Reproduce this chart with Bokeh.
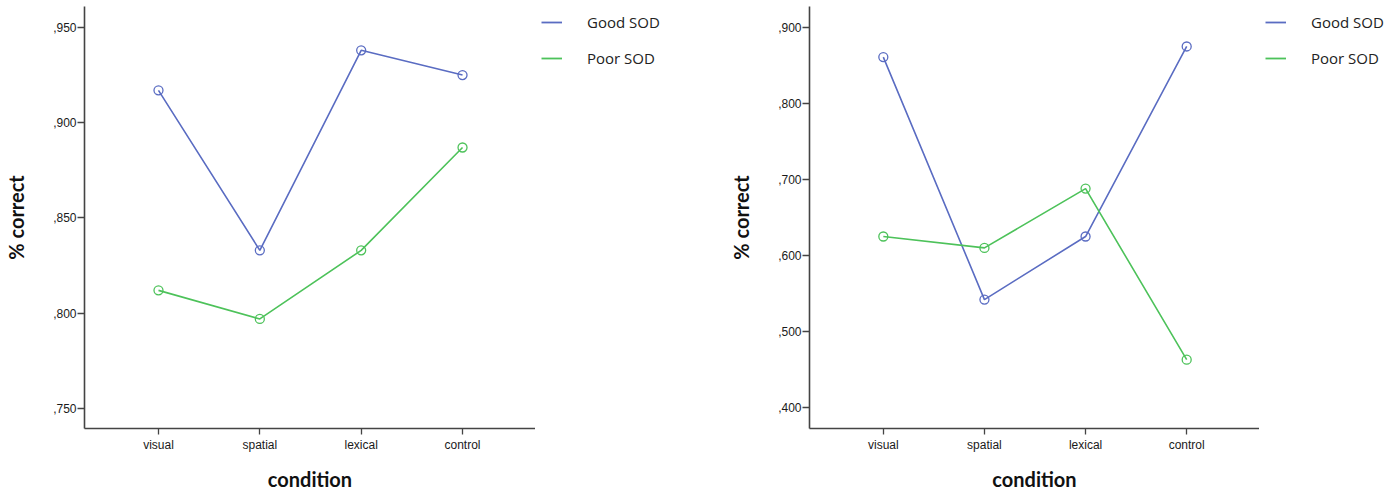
from bokeh.plotting import figure
from bokeh.layouts import row
from bokeh.models import Range1d, FixedTicker, CustomJSTickFormatter, Legend, LegendItem
from bokeh.embed import file_html
from bokeh.resources import INLINE

categories = ["visual", "spatial", "lexical", "control"]
series_names = ["Good SOD", "Poor SOD"]

left_good = [0.917, 0.833, 0.938, 0.925]
left_poor = [0.812, 0.797, 0.833, 0.887]
left_ticks = [0.750, 0.800, 0.850, 0.900, 0.950]

right_good = [0.861, 0.542, 0.625, 0.875]
right_poor = [0.625, 0.610, 0.688, 0.463]
right_ticks = [0.400, 0.500, 0.600, 0.700, 0.800, 0.900]

BLUE = "#5a6cc2"
GREEN = "#4dc25a"
AXIS = "#444444"
TXT = "#1a1a1a"

FRAME_TOP = 6
FRAME_H = 422
TOTAL_H = 495
COLORS = [BLUE, GREEN]


def make_panel(good, poor, ticks, yr, border_left, frame_w):
    xs = list(range(len(categories)))
    p = figure(width=border_left + frame_w, height=TOTAL_H,
               output_backend="svg", toolbar_location=None,
               x_range=Range1d(-0.73, 3.72), y_range=Range1d(*yr),
               min_border_left=border_left, min_border_right=0,
               min_border_top=FRAME_TOP, min_border_bottom=TOTAL_H - FRAME_H - FRAME_TOP)
    p.outline_line_color = None
    p.grid.visible = False
    p.background_fill_color = "white"
    p.border_fill_color = "white"

    for vals, col in zip([good, poor], COLORS):
        p.line(xs, vals, line_color=col, line_width=1.6)
        p.scatter(xs, vals, size=9, fill_color=None, line_color=col, line_width=1.3)

    # x axis
    xa = p.xaxis[0]
    xa.ticker = FixedTicker(ticks=xs)
    xa.major_label_overrides = {i: c for i, c in enumerate(categories)}
    xa.minor_tick_line_color = None
    xa.major_tick_out = 6
    xa.major_tick_in = 0
    xa.axis_line_color = AXIS
    xa.axis_line_width = 1.6
    xa.major_tick_line_color = AXIS
    xa.major_tick_line_width = 1.3
    xa.major_label_text_font = "Liberation Sans"
    xa.major_label_text_font_size = "12px"
    xa.major_label_text_color = TXT
    xa.major_label_standoff = 3
    xa.axis_label = "condition"
    xa.axis_label_text_font = "Lato"
    xa.axis_label_text_font_style = "bold"
    xa.axis_label_text_font_size = "20px"
    xa.axis_label_text_color = "#111111"
    xa.axis_label_standoff = 12

    # y axis
    ya = p.yaxis[0]
    ya.ticker = FixedTicker(ticks=ticks)
    ya.formatter = CustomJSTickFormatter(code="return ',' + tick.toFixed(3).split('.')[1];")
    ya.minor_tick_line_color = None
    ya.major_tick_out = 7
    ya.major_tick_in = 0
    ya.axis_line_color = AXIS
    ya.axis_line_width = 1.6
    ya.major_tick_line_color = AXIS
    ya.major_tick_line_width = 1.3
    ya.major_label_text_font = "Liberation Sans"
    ya.major_label_text_font_size = "12px"
    ya.major_label_text_color = TXT
    ya.major_label_standoff = 1
    ya.axis_label = "% correct"
    ya.axis_label_text_font = "Lato"
    ya.axis_label_text_font_style = "bold"
    ya.axis_label_text_font_size = "20px"
    ya.axis_label_text_color = "#111111"
    ya.axis_label_standoff = 22
    return p


def make_legend(width):
    q = figure(width=width, height=TOTAL_H, output_backend="svg", toolbar_location=None,
               x_axis_type=None, y_axis_type=None,
               x_range=Range1d(0, 1), y_range=Range1d(0, 1),
               min_border_left=0, min_border_right=0, min_border_top=FRAME_TOP,
               min_border_bottom=0)
    q.outline_line_color = None
    q.grid.visible = False
    items = []
    for name, col in zip(series_names, COLORS):
        r = q.line(x=[float("nan")], y=[float("nan")], line_color=col, line_width=1.8)
        items.append(LegendItem(label=name, renderers=[r]))
    legend = Legend(items=items, location="top_left", margin=0, padding=6,
                    glyph_width=21, glyph_height=20, label_standoff=25,
                    spacing=16, label_height=20,
                    label_text_font="Open Sans", label_text_font_size="15px",
                    label_text_color="#222222", border_line_alpha=0,
                    background_fill_alpha=0)
    q.add_layout(legend)
    return q


p1 = make_panel(left_good, left_poor, left_ticks, (0.7395, 0.961), 84, 451)
l1 = make_legend(165)
p2 = make_panel(right_good, right_poor, right_ticks, (0.3724, 0.9276), 109, 450)
l2 = make_legend(136)

layout = row(p1, l1, p2, l2, spacing=0)
open("out.html", "w").write(file_html(layout, INLINE))
